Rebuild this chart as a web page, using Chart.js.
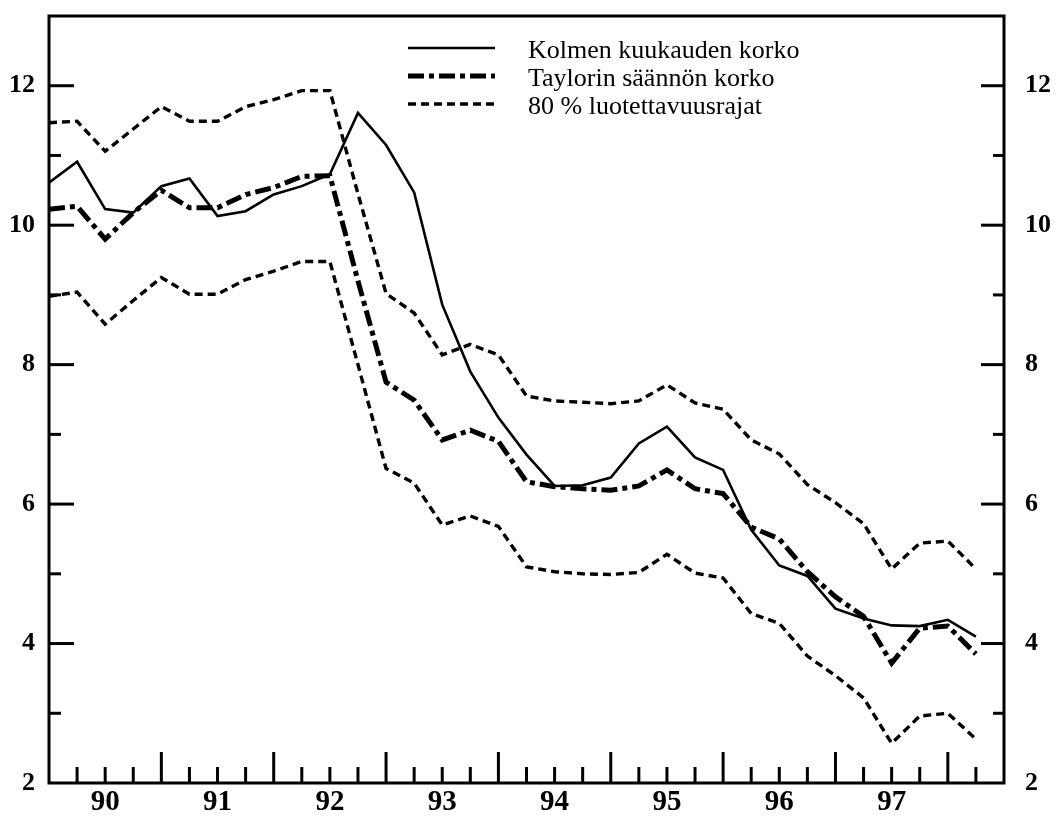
<!DOCTYPE html>
<html>
<head>
<meta charset="utf-8">
<script src="https://cdn.jsdelivr.net/npm/chart.js@4.4.1/dist/chart.umd.min.js"></script>
<style>
  html, body { margin: 0; padding: 0; background: #ffffff; }
  #wrap { width: 1059px; height: 817px; position: relative; background: #ffffff; }
</style>
</head>
<body>
<div id="wrap"><canvas id="c" width="1059" height="817"></canvas></div>
<script>
// ---- data (quarterly, index 0 = first quarter of 1990) ----
const yearLabels = ['90', '91', '92', '93', '94', '95', '96', '97'];
const yearCenters = [2, 6, 10, 14, 18, 22, 26, 30];
const yTickValues = [2, 4, 6, 8, 10, 12];
const seriesNames = ['Kolmen kuukauden korko', 'Taylorin säännön korko', '80 % luotettavuusrajat'];

const kolmenKuukaudenKorko = [
  10.61, 10.91, 10.23, 10.18, 10.56, 10.67, 10.13, 10.20, 10.44, 10.56,
  10.73, 11.61, 11.15, 10.47, 8.86, 7.90, 7.24, 6.71, 6.26, 6.27,
  6.38, 6.87, 7.11, 6.67, 6.49, 5.63, 5.12, 4.97, 4.50, 4.36,
  4.26, 4.25, 4.34, 4.10
];
const taylorinKorko = [
  10.23, 10.27, 9.80, 10.18, 10.50, 10.25, 10.25, 10.44, 10.54, 10.70,
  10.71, 9.20, 7.75, 7.49, 6.92, 7.06, 6.90, 6.32, 6.25, 6.22,
  6.20, 6.26, 6.49, 6.22, 6.15, 5.67, 5.50, 5.03, 4.67, 4.39,
  3.72, 4.22, 4.25, 3.85
];
const ylaraja = [
  11.47, 11.49, 11.06, 11.38, 11.70, 11.49, 11.49, 11.70, 11.80, 11.93,
  11.93, 10.45, 9.02, 8.74, 8.14, 8.29, 8.14, 7.55, 7.48, 7.46,
  7.44, 7.48, 7.71, 7.45, 7.36, 6.92, 6.72, 6.28, 6.02, 5.72,
  5.07, 5.44, 5.47, 5.07
];
const alaraja = [
  8.98, 9.04, 8.58, 8.92, 9.25, 9.01, 9.01, 9.22, 9.34, 9.48,
  9.48, 8.00, 6.51, 6.30, 5.70, 5.83, 5.68, 5.10, 5.03, 5.00,
  4.99, 5.02, 5.28, 5.01, 4.94, 4.43, 4.29, 3.82, 3.54, 3.22,
  2.57, 2.96, 3.00, 2.63
];

const toPoints = arr => arr.map((v, i) => ({ x: i, y: v }));

const SOLID = { borderWidth: 2.6, borderDash: [] };
const DASHDOT = { borderWidth: 5, borderDash: [16, 5, 5, 5] };
const DOTTED = { borderWidth: 3.4, borderDash: [8, 5] };

const tickFontY = { family: 'Liberation Serif', size: 26, weight: 'bold' };
const tickFontX = { family: 'Liberation Serif', size: 29, weight: 'bold' };

const framePlugin = {
  id: 'frameTicks',
  afterDraw(chart) {
    const { ctx, chartArea: a, scales } = chart;
    const x = scales.x, y = scales.y, y2 = scales.y2;
    ctx.save();
    ctx.strokeStyle = '#000';
    ctx.lineWidth = 3;
    ctx.setLineDash([]);
    ctx.lineCap = 'butt';
    ctx.strokeRect(a.left, a.top, a.right - a.left, a.bottom - a.top);
    const seg = (x1, y1, x2, y2p) => { ctx.beginPath(); ctx.moveTo(x1, y1); ctx.lineTo(x2, y2p); ctx.stroke(); };
    // bottom ticks (inward)
    for (let k = 1; k < 34; k++) {
      const px = x.getPixelForValue(k);
      const len = (k % 4 === 0) ? 31 : 16;
      seg(px, a.bottom, px, a.bottom - len);
    }
    // left ticks
    for (let v = 3; v <= 12; v++) {
      const py = y.getPixelForValue(v);
      const len = (v % 2 === 0) ? 25 : 12;
      seg(a.left, py, a.left + len, py);
    }
    // right ticks
    for (let v = 3; v <= 12; v++) {
      const py = y2.getPixelForValue(v);
      const len = (v % 2 === 0) ? 23 : 11;
      seg(a.right, py, a.right - len, py);
    }
    ctx.restore();
  }
};

const legendPlugin = {
  id: 'customLegend',
  afterDraw(chart) {
    const { ctx } = chart;
    const rows = [
      { ds: chart.data.datasets[0], text: seriesNames[0], ly: 48, ty: 51 },
      { ds: chart.data.datasets[1], text: seriesNames[1], ly: 76, ty: 79 },
      { ds: chart.data.datasets[2], text: seriesNames[2], ly: 104, ty: 107 }
    ];
    ctx.save();
    rows.forEach(r => {
      ctx.strokeStyle = r.ds.borderColor;
      ctx.lineWidth = r.ds.borderWidth;
      ctx.setLineDash(r.ds.borderDash || []);
      ctx.lineCap = 'butt';
      ctx.beginPath();
      ctx.moveTo(408, r.ly);
      ctx.lineTo(495, r.ly);
      ctx.stroke();
      ctx.setLineDash([]);
      ctx.fillStyle = '#000';
      ctx.font = '26px "Liberation Serif"';
      ctx.textBaseline = 'middle';
      ctx.textAlign = 'left';
      ctx.fillText(r.text, 528, r.ty);
    });
    ctx.restore();
  }
};

const yScale = (pos, pad, width) => ({
  type: 'linear',
  position: pos,
  min: 2,
  max: 13,
  afterBuildTicks: s => { s.ticks = yTickValues.map(v => ({ value: v })); },
  afterFit: s => { s.width = width; s.paddingTop = 0; s.paddingBottom = 0; },
  grid: { display: false, drawTicks: false },
  border: { display: false },
  ticks: {
    color: '#000',
    font: tickFontY,
    padding: pad,
    callback: v => String(v)
  }
});

new Chart(document.getElementById('c'), {
  type: 'line',
  data: {
    datasets: [
      { label: seriesNames[0], data: toPoints(kolmenKuukaudenKorko), borderColor: '#000', ...SOLID, yAxisID: 'y' },
      { label: seriesNames[1], data: toPoints(taylorinKorko), borderColor: '#000', ...DASHDOT, yAxisID: 'y' },
      { label: seriesNames[2], data: toPoints(ylaraja), borderColor: '#000', ...DOTTED, yAxisID: 'y' },
      { label: seriesNames[2], data: toPoints(alaraja), borderColor: '#000', ...DOTTED, yAxisID: 'y' }
    ]
  },
  options: {
    responsive: false,
    animation: false,
    devicePixelRatio: 1,
    layout: { padding: { top: 16, left: 0, right: 0, bottom: 0 } },
    elements: {
      point: { radius: 0, hoverRadius: 0 },
      line: { tension: 0, fill: false, borderJoinStyle: 'miter', borderCapStyle: 'butt' }
    },
    plugins: {
      legend: { display: false },
      tooltip: { enabled: false },
      title: { display: false }
    },
    scales: {
      x: {
        type: 'linear',
        min: 0,
        max: 34,
        afterBuildTicks: s => { s.ticks = yearCenters.map(v => ({ value: v })); },
        afterFit: s => { s.height = 34; s.paddingLeft = 0; s.paddingRight = 0; },
        grid: { display: false, drawTicks: false },
        border: { display: false },
        ticks: {
          color: '#000',
          font: tickFontX,
          padding: 2,
          autoSkip: false,
          maxRotation: 0,
          callback: v => { const i = yearCenters.indexOf(v); return i >= 0 ? yearLabels[i] : ''; }
        }
      },
      y: yScale('left', 14, 49),
      y2: yScale('right', 21, 55)
    }
  },
  plugins: [framePlugin, legendPlugin]
});
</script>
</body>
</html>
